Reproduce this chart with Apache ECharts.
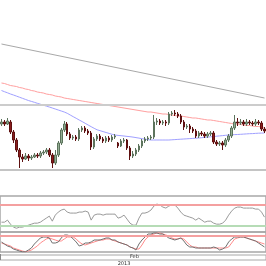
<!DOCTYPE html>
<html><head><meta charset="utf-8">
<script src="https://cdn.jsdelivr.net/npm/echarts@6/dist/echarts.min.js"></script>
<style>html,body{margin:0;padding:0;background:#fff}#c{width:266px;height:266px}</style>
</head><body><div id="c"></div>
<script>
// Price candles (4h bars)
const opens = [176,178,176,178,168,160,150,143,141,144,142,143,145,144,147,148,150,145,137,145,157,170,176,166,162,163,161,170,172,169,167,153,161,164,161,159,162,160,163,157,154,159,160,152,144,146,150,154,159,161,162,163,178,179,177,178,177,186,187,186,184,178,173,174,171,169,164,167,166,164,166,167,158,156,157,155,160,164,172,178,177,178,176,178,177,176,178,177,171];
const closes = [178,176,179,168,160,150,143,141,144,142,143,145,144,147,148,150,145,137,145,157,170,176,166,162,163,161,170,172,169,167,153,161,164,161,159,162,160,163,164,154,159,160,152,144,146,150,154,159,161,162,163,178,179,177,178,177,186,187,186,184,178,173,174,171,169,164,167,166,164,166,167,158,156,157,155,160,164,172,178,177,178,176,178,177,176,178,177,171,169];
const highs = [181,180,182,180,170,162,152,146,147,146,145,147,147,149,150,152,152,147,150,159,172,179,178,168,165,165,172,174,174,171,169,163,166,166,163,164,164,165,166,158,161,162,161,154,149,152,156,161,163,164,165,185,182,181,180,180,188,189,190,188,186,180,176,176,173,171,169,169,168,168,169,169,160,159,159,162,166,174,185,182,181,180,181,180,179,181,180,179,173];
const lows = [174,174,175,166,157,148,132,138,140,139,140,142,142,142,145,146,143,132,135,143,155,168,164,160,160,159,159,168,167,165,150,151,159,159,157,157,158,158,161,152,153,157,150,140,142,144,148,152,157,159,160,161,175,175,175,174,175,184,184,182,176,170,171,167,167,162,162,164,162,162,164,156,154,154,150,153,158,162,170,174,175,174,174,175,174,174,175,169,167];
// Moving averages
const maSlow = [217,216.5,215.5,214.5,214,213.5,212.5,212,211,210.5,209.5,209,208,207.5,207,206,205.5,205,204,203.5,203,202,201.5,201,200.5,200,199.5,199,198.5,198,197.5,197,196.5,196,195.5,195,194.5,194,193.5,193,192.5,192,191.5,191,190.5,190,189.5,189,188.5,188,188,187.5,187,186.5,186,186,185.5,185,184.5,184,184,183.5,183,182.5,182,182,181.5,181,180.5,180,180,179.5,179,178.5,178,177.5,177,176.5,176,176,175.5,175,174.5,174.5,174,173.5,173.5,173,172.5];
const maFast = [209.5,208.3,207.2,206,205,203.9,202.8,201.7,200.6,199.5,198.6,197.7,196.7,195.8,194.8,193.9,193,192,191,190,189,188,186.7,185,183.3,181.7,180,178.4,176.7,175,173.3,171.7,170.2,169.3,168.4,167.5,166.6,165.7,165,164.6,164.3,164,163.6,163.3,162.9,162.4,161.9,161.3,160.8,160.3,160,160,160,160,160,160,160,160.2,160.4,160.6,160.8,161,161.2,161.4,161.6,161.8,162,162.3,162.6,162.9,163.2,163.5,163.8,164.1,164.4,164.7,165,165.2,165.4,165.5,165.7,165.9,166.1,166.3,166.4,166.6,166.8,166.9,167];
// Trend line and horizontal levels
const trendStart = 256, trendEnd = 202;
const resistance = 195, support = 130;
// RSI
const rsi = [37.2,37.2,41.1,33.4,27.7,25.7,27.7,27.7,29.6,31.5,33.4,35.3,35.3,37.2,41.1,44.9,48.7,39.1,50.6,56.4,60.2,62.1,56.4,54.5,54.5,54.5,56.4,56.4,58.3,56.4,41.1,50.6,52.5,52.5,50.6,52.5,52.5,52.5,52.5,44.9,46.8,50.6,43,35.3,31.5,31.5,44.9,54.5,54.5,56.4,60.2,67.9,71.7,69.8,65.9,64,67.9,69.8,69.8,64,56.4,50.6,48.7,46.8,44.9,41.1,44.9,41.1,37.2,39.1,39.1,35.3,33.4,33.4,35.3,41.1,50.6,58.3,64,65.9,65.9,64,64,64,64,62.1,62.1,56.4,46.8];
const rsiHigh = 70, rsiLow = 30;
// Stochastic
const stochK = [50,40,30,25,15,10,5,1,1,10,20,40,55,70,75,75,70,45,45,50,70,85,85,80,65,50,30,35,45,45,50,60,60,60,65,70,70,60,60,50,45,40,35,25,20,10,40,60,75,90,90,95,95,90,90,80,70,65,60,65,70,55,35,25,25,20,20,20,20,20,20,25,20,10,15,25,50,65,75,75,75,75,70,65,60,55,45,35,25];
const stochD = [45,40,35,30,20,15,10,5,1,5,10,20,30,45,55,65,70,65,60,55,55,65,75,75,75,65,50,40,35,40,45,50,55,60,60,65,65,60,55,50,45,40,35,25,20,15,15,35,60,75,85,90,95,95,90,85,80,70,65,65,70,65,50,35,25,25,20,20,20,20,20,20,20,20,20,20,25,45,65,70,75,75,70,65,60,55,50,45,40];
const stochHigh = 80;
// Time axis labels
const monthTickIndex = 43, monthLabel = 'Feb';
const yearLabelIndex = 41, yearLabel = '2013';

const bars = opens.map((_, i) => String(i));
const candles = opens.map((o, i) => [o, closes[i], lows[i], highs[i]]);

const chart = echarts.init(document.getElementById('c'), null, {renderer: 'canvas'});
const font = 'DejaVu Sans';
const hiddenX = (g) => ({type: 'category', gridIndex: g, data: bars, boundaryGap: true, show: false});
const hiddenY = (g, min, max) => ({type: 'value', gridIndex: g, min, max, show: false, splitLine: {show: false}});

chart.setOption({
  animation: false,
  backgroundColor: '#fff',
  grid: [
    {left: -1, right: -1, top: 0, height: 200},
    {left: -1, right: -1, top: 196, height: 36, show: true, borderColor: '#a8a8a8', borderWidth: 1.5, backgroundColor: 'transparent'},
    {left: -1, right: -1, top: 232, height: 20, show: true, borderColor: '#a8a8a8', borderWidth: 1.5, backgroundColor: 'transparent'},
    {left: -1, right: -1, top: 255, height: 6, show: true, borderColor: '#a8a8a8', borderWidth: 1, backgroundColor: 'transparent'}
  ],
  xAxis: [
    hiddenX(0), hiddenX(1), hiddenX(2),
    {type: 'category', gridIndex: 3, data: bars, boundaryGap: true, position: 'bottom',
      axisLine: {show: false},
      axisTick: {show: true, inside: true, length: 6, interval: (i) => i === monthTickIndex, lineStyle: {color: '#888', width: 1}},
      axisLabel: {show: true, inside: true, margin: 1, interval: (i) => i === monthTickIndex, formatter: () => monthLabel, fontSize: 5, fontFamily: font, color: '#333', align: 'left'},
      splitLine: {show: false}},
    {type: 'category', gridIndex: 3, data: bars, boundaryGap: true, position: 'bottom',
      axisLine: {show: false}, axisTick: {show: false},
      axisLabel: {show: true, margin: 1, interval: (i) => i === yearLabelIndex, formatter: () => yearLabel, fontSize: 5, fontFamily: font, color: '#333'},
      splitLine: {show: false}}
  ],
  yAxis: [hiddenY(0, 100, 300), hiddenY(1, 18.5, 87), hiddenY(2, 0, 100), hiddenY(3, 0, 1)],
  series: [
    {type: 'line', xAxisIndex: 0, yAxisIndex: 0, data: maSlow, symbol: 'none', lineStyle: {color: '#ff9f9f', width: 1}, z: 2},
    {type: 'line', xAxisIndex: 0, yAxisIndex: 0, data: maFast, symbol: 'none', lineStyle: {color: '#a0a0ff', width: 1}, z: 2},
    {type: 'candlestick', xAxisIndex: 0, yAxisIndex: 0, data: candles, barWidth: 2, z: 3,
      itemStyle: {color: '#93ad93', color0: '#8a1c1c', borderColor: '#5d745d', borderColor0: '#5e1010', borderWidth: 1},
      markLine: {silent: true, symbol: 'none', label: {show: false}, animation: false,
        data: [
          {yAxis: resistance, lineStyle: {color: '#cccccc', width: 2, type: 'solid'}},
          {yAxis: support, lineStyle: {color: '#c4c4c4', width: 2, type: 'solid'}},
          [{coord: [0, trendStart], lineStyle: {color: '#a8a8a8', width: 1, type: 'solid'}}, {coord: [bars.length - 1, trendEnd]}]
        ]}},
    {type: 'line', xAxisIndex: 1, yAxisIndex: 1, data: rsi, symbol: 'none', lineStyle: {color: '#9a9a9a', width: 1}, z: 3,
      markLine: {silent: true, symbol: 'none', label: {show: false},
        data: [
          {yAxis: rsiHigh, lineStyle: {color: '#f4a0a0', width: 2, type: 'solid'}},
          {yAxis: rsiLow, lineStyle: {color: '#b6dcb6', width: 2, type: 'solid'}}
        ]}},
    {type: 'line', xAxisIndex: 2, yAxisIndex: 2, data: stochK, symbol: 'none', lineStyle: {color: '#707070', width: 1}, z: 4,
      markLine: {silent: true, symbol: 'none', label: {show: false},
        data: [{yAxis: stochHigh, lineStyle: {color: '#f4a0a0', width: 2, type: 'solid'}}]}},
    {type: 'line', xAxisIndex: 2, yAxisIndex: 2, data: stochD, symbol: 'none', lineStyle: {color: '#ff8a8a', width: 1}, z: 3},
    {type: 'line', xAxisIndex: 3, yAxisIndex: 3, data: [], symbol: 'none'}
  ]
});
</script>
</body></html>
